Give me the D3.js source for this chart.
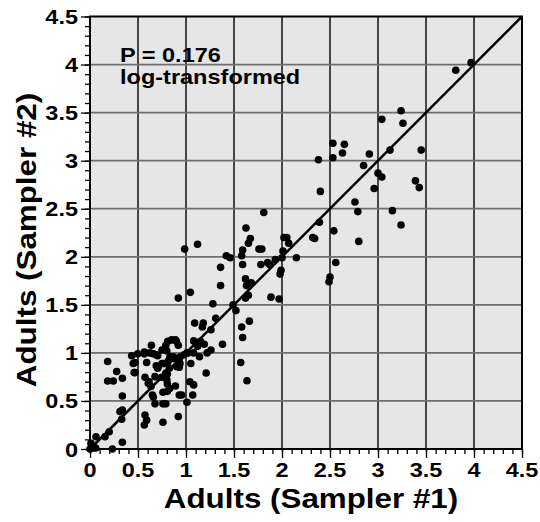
<!DOCTYPE html>
<html>
<head>
<meta charset="utf-8">
<script src="https://cdn.jsdelivr.net/npm/d3@7"></script>
<style>
  body { margin: 0; background: #fff; }
  text { font-family: "Liberation Sans", Arial, sans-serif; font-weight: bold; fill: #000; }
</style>
</head>
<body>
<script>
// sampler #1 values (log-transformed adults)
var sampler1 = [
  3.97, 3.81, 3.24, 3.04, 3.26, 2.53, 2.65, 2.63, 2.53, 2.38, 2.91, 3.125, 3.45, 2.85, 3.00, 3.04, 2.96, 3.39, 3.43, 2.40,
  2.76, 2.79, 3.15, 3.24, 2.54, 2.80, 2.39, 2.34, 2.56, 2.50, 2.49,
  1.81, 1.625, 1.67, 1.65, 1.59, 1.76, 1.79, 1.12, 0.986, 2.02, 2.05, 2.07, 2.32, 1.42, 1.46, 1.58, 1.59, 1.36, 1.78, 1.85,
  1.87, 1.93, 2.01, 2.00, 2.15, 1.99, 1.98, 1.62, 1.68, 1.63, 1.36, 1.65, 1.62, 1.885, 1.97, 1.28, 1.49, 1.52, 1.31, 1.045, 0.92,
  1.09, 1.18, 1.17, 1.26, 1.66, 1.58, 1.59, 1.38, 1.57, 1.635, 1.21, 1.08, 1.15, 1.12, 1.19, 1.14, 1.22, 1.26, 1.08, 1.01,
  0.434, 0.497, 0.566, 0.625, 0.69, 0.75, 0.80, 0.81, 0.89, 0.85, 0.79, 0.92, 0.87, 0.927, 0.816, 0.903, 0.94, 0.469, 0.59, 0.69,
  0.705, 0.77, 0.826, 0.93, 0.806, 0.469, 0.573, 0.615, 0.677, 0.79, 0.635, 0.806, 0.83, 0.89, 0.76, 0.65, 0.66, 0.677, 0.76, 0.79,
  0.93, 0.955, 1.01, 1.07, 0.573, 0.59, 0.566, 0.76, 0.92, 0.184, 0.278, 0.184, 0.243, 0.337, 0.337, 0.3125, 0.337, 0.33, 0.20, 0.156,
  0.0625, 0.01, 0.0, 0.03, 0.06, 0.02, 0.233, 0.337, 0.45, 0.46, 0.64, 0.566, 0.66, 0.705, 0.607, 1.04, 1.08, 1.05, 0.98, 1.02,
  0.75, 0.806, 0.71, 0.80, 0.806, 0.9375, 0.875, 0.833, 0.90, 0.747
];
// sampler #2 values, same order
var sampler2 = [
  4.02, 3.94, 3.52, 3.43, 3.39, 3.18, 3.17, 3.08, 3.03, 3.01, 3.07, 3.11, 3.11, 2.95, 2.87, 2.83, 2.71, 2.79, 2.72, 2.68,
  2.57, 2.47, 2.48, 2.33, 2.27, 2.16, 2.36, 2.19, 1.94, 1.79, 1.74,
  2.46, 2.30, 2.19, 2.14, 2.07, 2.08, 2.08, 2.13, 2.08, 2.20, 2.20, 2.14, 2.20, 2.01, 1.99, 2.01, 1.92, 1.89, 1.92, 1.94,
  1.92, 1.97, 2.06, 1.99, 1.99, 1.86, 1.82, 1.77, 1.73, 1.70, 1.70, 1.60, 1.57, 1.58, 1.56, 1.51, 1.50, 1.44, 1.36, 1.63, 1.57,
  1.31, 1.31, 1.27, 1.24, 1.33, 1.27, 1.16, 1.09, 0.90, 0.71, 0.79, 1.125, 1.12, 1.07, 1.09, 0.96, 1.00, 1.03, 1.00, 1.00,
  0.97, 0.99, 1.01, 1.00, 0.98, 1.03, 1.02, 1.12, 1.135, 1.135, 1.08, 1.08, 0.96, 0.927, 0.917, 0.857, 0.96, 0.90, 0.90, 0.865,
  0.84, 0.89, 0.84, 0.85, 0.78, 0.795, 0.746, 0.70, 0.753, 0.79, 0.65, 0.677, 0.63, 0.656, 0.59, 0.5625, 0.54, 0.47, 0.47, 0.47,
  0.5625, 0.5625, 0.486, 0.5625, 0.354, 0.30, 0.25, 0.278, 0.337, 0.91, 0.806, 0.708, 0.708, 0.736, 0.552, 0.389, 0.406, 0.31, 0.18, 0.128,
  0.128, 0.06, 0.0, 0.01, 0.01, 0.03, 0.0, 0.07, 0.89, 0.795, 1.08, 0.99, 0.99, 0.97, 0.684, 0.70, 0.667, 0.89, 0.98, 1.0,
  0.89, 0.89, 0.857, 0.72, 0.60, 0.89, 0.94, 0.96, 1.12, 0.747
];
var majorTicks = [0, 0.5, 1, 1.5, 2, 2.5, 3, 3.5, 4, 4.5];
var tickLabels = ["0", "0.5", "1", "1.5", "2", "2.5", "3", "3.5", "4", "4.5"];
var axisMax = 4.5;
var annotation = ["P = 0.176", "log-transformed"];
var xTitle = "Adults (Sampler #1)";
var yTitle = "Adults (Sampler #2)";

var width = 540, height = 522;
var margin = { top: 16.5, right: 18, bottom: 73, left: 90 };
var sx = 1.12; // glyphs in the reference are a bit wider than tall

var svg = d3.select("body").append("svg")
  .attr("width", width)
  .attr("height", height);

var x = d3.scaleLinear().domain([0, axisMax]).range([margin.left, width - margin.right]);
var y = d3.scaleLinear().domain([0, axisMax]).range([height - margin.bottom, margin.top]);

// plot background
svg.append("rect")
  .attr("x", x(0)).attr("y", y(axisMax))
  .attr("width", x(axisMax) - x(0)).attr("height", y(0) - y(axisMax))
  .attr("fill", "#e6e6e6");

// grid lines
svg.selectAll(".vgrid")
  .data(majorTicks.slice(1, -1))
  .enter().append("line")
  .attr("x1", d => x(d)).attr("x2", d => x(d))
  .attr("y1", y(0)).attr("y2", y(axisMax))
  .attr("stroke", "#000").attr("stroke-width", 1.4);

svg.selectAll(".hgrid")
  .data(majorTicks.slice(1, -1))
  .enter().append("line")
  .attr("y1", d => y(d)).attr("y2", d => y(d))
  .attr("x1", x(0)).attr("x2", x(axisMax))
  .attr("stroke", "#6e6e6e").attr("stroke-width", 1.8);

// 1:1 line
svg.append("line")
  .attr("x1", x(0)).attr("y1", y(0))
  .attr("x2", x(axisMax)).attr("y2", y(axisMax))
  .attr("stroke", "#000").attr("stroke-width", 2.5);

// points
svg.selectAll(".pt")
  .data(d3.zip(sampler1, sampler2))
  .enter().append("circle")
  .attr("class", "pt")
  .attr("cx", d => x(d[0]))
  .attr("cy", d => y(d[1]))
  .attr("r", 3.8)
  .attr("fill", "#000");

// frame
svg.append("rect")
  .attr("x", x(0)).attr("y", y(axisMax))
  .attr("width", x(axisMax) - x(0)).attr("height", y(0) - y(axisMax))
  .attr("fill", "none").attr("stroke", "#000").attr("stroke-width", 2);

// axes with minor ticks
var minor = d3.range(0, 46).map(d => d / 10);

var xAxis = svg.append("g").attr("transform", "translate(0," + y(0) + ")");
xAxis.call(d3.axisBottom(x).tickValues(minor).tickSize(5).tickFormat(""));
xAxis.append("g").call(d3.axisBottom(x).tickValues(majorTicks).tickSize(9).tickFormat(""));
xAxis.selectAll(".domain").remove();
xAxis.selectAll("line").attr("stroke", "#000").attr("stroke-width", 1.3);

var yAxis = svg.append("g").attr("transform", "translate(" + x(0) + ",0)");
yAxis.call(d3.axisLeft(y).tickValues(minor).tickSize(5).tickFormat(""));
yAxis.append("g").call(d3.axisLeft(y).tickValues(majorTicks).tickSize(9).tickFormat(""));
yAxis.selectAll(".domain").remove();
yAxis.selectAll("line").attr("stroke", "#000").attr("stroke-width", 1.3);

// tick labels
svg.selectAll(".xlab")
  .data(majorTicks)
  .enter().append("text")
  .attr("transform", (d, i) => "translate(" + x(d) + "," + (y(0) + 28) + ") scale(" + sx + ",1)")
  .attr("text-anchor", "middle")
  .style("font-size", "21px")
  .text((d, i) => tickLabels[i]);

svg.selectAll(".ylab")
  .data(majorTicks)
  .enter().append("text")
  .attr("transform", (d, i) => "translate(" + (x(0) - 12) + "," + (y(d) + 7.5) + ") scale(" + sx + ",1)")
  .attr("text-anchor", "end")
  .style("font-size", "21px")
  .text((d, i) => tickLabels[i]);

// annotation
annotation.forEach(function(t, i) {
  svg.append("text")
    .attr("transform", "translate(120," + (61.7 + i * 22.6) + ") scale(" + sx + ",1)")
    .style("font-size", "21px")
    .text(t);
});

// axis titles
svg.append("text")
  .attr("transform", "translate(311,508) scale(" + sx + ",1)")
  .attr("text-anchor", "middle")
  .style("font-size", "28px")
  .text(xTitle);

svg.append("text")
  .attr("transform", "translate(36,240) rotate(-90) scale(" + sx + ",1)")
  .attr("text-anchor", "middle")
  .style("font-size", "28px")
  .text(yTitle);
</script>
</body>
</html>
